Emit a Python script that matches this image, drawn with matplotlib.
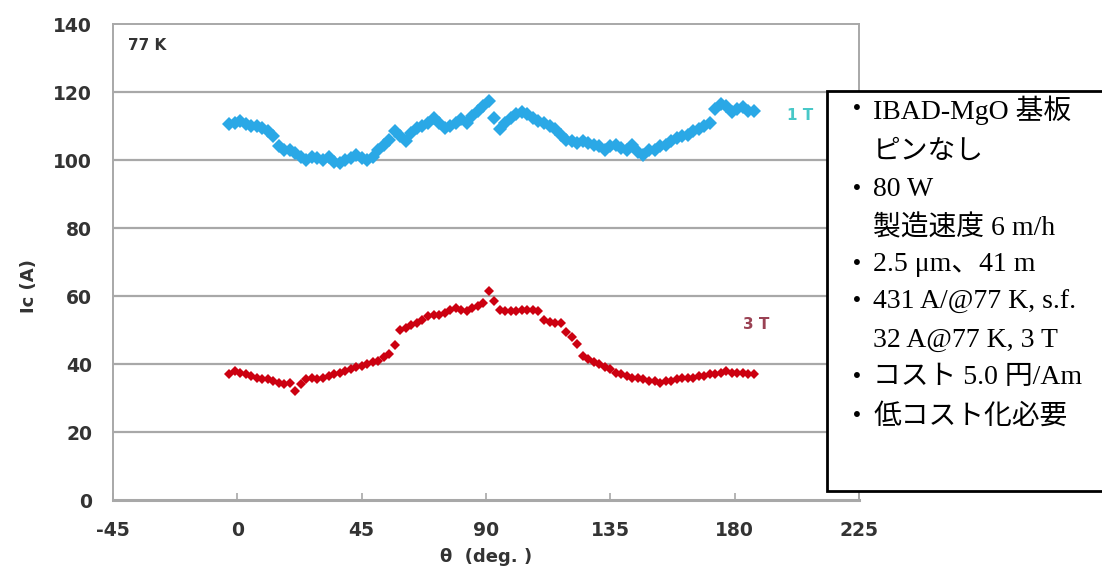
import matplotlib
matplotlib.use("Agg")
import matplotlib.pyplot as plt
from matplotlib.patches import Rectangle
from matplotlib.lines import Line2D

plt.rcParams["axes.unicode_minus"] = False

# 角度 (deg.)
theta = [-3, -1, 1, 3, 5, 7, 9, 11, 13, 15, 17, 19, 21, 23, 25, 27, 29, 31, 33, 35,
         37, 39, 41, 43, 45, 47, 49, 51, 53, 55, 57, 59, 61, 63, 65, 67, 69, 71, 73, 75,
         77, 79, 81, 83, 85, 87, 89, 91, 93, 95, 97, 99, 101, 103, 105, 107, 109, 111, 113, 115,
         117, 119, 121, 123, 125, 127, 129, 131, 133, 135, 137, 139, 141, 143, 145, 147, 149, 151, 153, 155,
         157, 159, 161, 163, 165, 167, 169, 171, 173, 175, 177, 179, 181, 183, 185, 187]

# Ic @ 1 T
ic_1t = [110.5, 111, 111.5, 110.5, 110, 110, 109.5, 108.5, 107, 104, 103, 103, 102, 101, 100, 101, 100.5, 100, 101, 99.5,
         99, 100, 100.5, 101.5, 100.5, 100, 101, 103, 104.5, 106, 108.5, 107, 105.5, 108, 109.5, 110, 111, 112.5, 111, 109.5,
         110, 111, 112, 111, 113, 114.5, 116, 117.5, 112.5, 109, 111, 112.5, 113.5, 114, 113.5, 112.5, 111.5, 111, 110, 109,
         107.5, 106, 105.5, 105, 105.5, 105, 104.5, 104, 103, 104, 104.5, 103.5, 103, 104.5, 102.5, 101.5, 103, 103, 104, 104.5,
         105.5, 106.5, 107, 107.5, 108.5, 109, 110, 111, 115, 116.5, 116, 114, 115, 115.5, 114.5, 114.5]

# Ic @ 3 T
ic_3t = [37, 38, 37.5, 37, 36.5, 36, 35.5, 35.5, 35, 34.5, 34, 34.5, 32, 34, 35.5, 36, 35.5, 36, 36.5, 37,
         37.5, 38, 38.5, 39, 39.5, 40, 40.5, 41, 42, 43, 45.5, 50, 50.5, 51.5, 52, 53, 54, 54.5, 54.5, 55,
         56, 56.5, 56, 55.5, 56.5, 57, 58, 61.5, 58.5, 56, 55.5, 55.5, 55.5, 56, 56, 56, 55.5, 53, 52.5, 52,
         52, 49.5, 48, 46, 42.5, 41.5, 40.5, 40, 39, 38.5, 37.5, 37, 36.5, 36, 36, 35.5, 35, 35, 34.5, 35,
         35, 35.5, 36, 36, 36, 36.5, 36.5, 37, 37, 37.5, 38, 37.5, 37.5, 37.5, 37, 37]

x_ticks = [-45, 0, 45, 90, 135, 180, 225]
y_ticks = [0, 20, 40, 60, 80, 100, 120, 140]

notes = [
    ("・", "IBAD-MgO 基板"),
    ("", "ピンなし"),
    ("・", "80 W"),
    ("", "製造速度 6 m/h"),
    ("・", "2.5 μm、41 m"),
    ("・", "431 A/@77 K, s.f."),
    ("", "32 A@77 K, 3 T"),
    ("・", "コスト 5.0 円/Am"),
    ("・", "低コスト化必要"),
]

W, H = 1102, 571
fig = plt.figure(figsize=(W / 100, H / 100), dpi=100)
ax = fig.add_axes([113 / W, 1 - 500 / H, 746 / W, 476 / H])

grid_c = "#a8a8a8"
ax.plot(theta, ic_1t, linestyle="none", marker="D", markersize=7,
        color="#2aa8e6", markeredgewidth=0, zorder=3)
ax.plot(theta, ic_3t, linestyle="none", marker="D", markersize=5.5,
        color="#cc0010", markeredgewidth=0, zorder=3)

ax.set_xlim(-45, 225)
ax.set_ylim(0, 140)
ax.set_xticks(x_ticks)
ax.set_yticks(y_ticks)
for v in y_ticks[1:-1]:
    ax.axhline(v, color=grid_c, linewidth=1.6, zorder=1)

for s in ax.spines.values():
    s.set_color(grid_c)
    s.set_linewidth(1.4)
ax.spines["bottom"].set_linewidth(2.2)

ax.tick_params(axis="x", direction="in", length=5, width=1.2, color=grid_c,
               pad=15, labelsize=13.5, labelcolor="#333333")
ax.tick_params(axis="y", length=0, pad=15, labelsize=13.5, labelcolor="#333333")
for lab in ax.get_xticklabels() + ax.get_yticklabels():
    lab.set_fontweight("bold")

ax.set_ylabel("Ic (A)", fontsize=13, fontweight="bold", color="#333333")
ax.yaxis.set_label_coords(-0.1, 0.45)
ax.set_xlabel("θ  (deg. )", fontsize=13, fontweight="bold", color="#333333")
ax.xaxis.set_label_coords(0.5, -0.1)

ax.text(0.02, 0.955, "77 K", transform=ax.transAxes, fontsize=11,
        fontweight="bold", color="#333333", va="center")
ax.text(199, 113, "1 T", fontsize=11, fontweight="bold", color="#48c8c8", va="center")
ax.text(183, 51.5, "3 T", fontsize=11, fontweight="bold", color="#9a4254", va="center")

# 注記ボックス (右端は画像の外まで続く)
bx0, bx1 = 827 / W, 1.0
by0, by1 = 1 - 491 / H, 1 - 91 / H
fig.add_artist(Rectangle((bx0, by0), bx1 - bx0, by1 - by0, transform=fig.transFigure,
                         facecolor="white", edgecolor="none", zorder=10))
fig.add_artist(Line2D([bx1, bx0, bx0, bx1], [by1, by1, by0, by0], transform=fig.transFigure,
                      color="black", linewidth=2, solid_joinstyle="miter", zorder=11))

fams = ["Liberation Serif", "Noto Sans CJK JP"]
line_y = [110, 152, 190, 228, 265, 302, 340, 378, 417]
for (bul, txt), yp in zip(notes, line_y):
    if bul:
        fig.text(857 / W, 1 - yp / H, bul, ha="center", va="center",
                 fontsize=20, family=["Noto Sans CJK JP"], zorder=12)
    fig.text(873 / W, 1 - yp / H, txt, ha="left", va="center",
             fontsize=20, family=fams, zorder=12)

fig.savefig("out.png", dpi=100)
